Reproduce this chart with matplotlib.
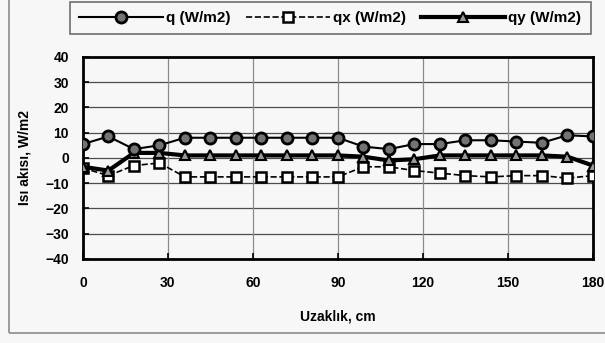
import numpy as np
import matplotlib.pyplot as plt
from matplotlib.patches import Rectangle

plt.rcParams['font.family'] = ['Liberation Sans', 'DejaVu Sans']

uzaklik = np.arange(0, 181, 9)
q = [5.5, 8.5, 3.5, 5, 8, 8, 8, 8, 8, 8, 8, 4.5, 3.5, 5.5, 5.5, 7, 7, 6.5, 6, 9, 8.5]
qx = [-4, -7, -3, -2, -7.5, -7.5, -7.5, -7.5, -7.5, -7.5, -7.5, -3.5, -3.5, -5, -6, -7, -7.5, -7, -7, -8, -7]
qy = [-3.5, -5, 2, 2, 1, 1, 1, 1, 1, 1, 1, 0.5, -1, -0.5, 1, 1, 1, 1, 1, 0.5, -3]

xticks = [0, 30, 60, 90, 120, 150, 180]
yticks = [40, 30, 20, 10, 0, -10, -20, -30, -40]

fig = plt.figure(figsize=(6.05, 3.43), dpi=100)
fig.patch.set_facecolor('#f7f7f7')
axe = fig.add_axes([0.137, 0.245, 0.843, 0.589])
axe.set_facecolor('#f7f7f7')

# outer frame of the scanned chart
fig.patches.append(Rectangle((9/605, 10/343), 0.999, 0.999, transform=fig.transFigure,
                             fill=False, edgecolor='0.55', lw=1.2))

for y in yticks[1:-1]:
    axe.axhline(y, color='0.3', lw=0.9, zorder=0)
for x in xticks[1:-1]:
    axe.axvline(x, color='0.55', lw=0.9, zorder=0)

axe.plot(uzaklik, q, '-o', c='black', lw=1.5, ms=8, mfc='0.45', mec='black', mew=2,
         label='q (W/m2)', zorder=4)
axe.plot(uzaklik, qx, '--s', c='black', lw=1.2, ms=7.5, mfc='white', mec='black', mew=1.8,
         label='qx (W/m2)', zorder=3)
axe.plot(uzaklik, qy, '-^', c='black', lw=3, ms=7.5, mfc='0.6', mec='black', mew=1.5,
         label='qy (W/m2)', zorder=3)

axe.set_xlim(0, 180)
axe.set_ylim(-40, 40)
axe.set_xticks(xticks)
axe.set_yticks(yticks)
axe.tick_params(direction='in', length=4, width=1.2, labelsize=10)
for lab in axe.get_xticklabels() + axe.get_yticklabels():
    lab.set_fontweight('bold')
axe.tick_params(axis='x', pad=12)
axe.tick_params(axis='y', pad=10)
for s in axe.spines.values():
    s.set_linewidth(2)
    s.set_color('black')

axe.set_xlabel('Uzaklık, cm', fontsize=10, fontweight='bold', labelpad=14)
axe.set_ylabel('Isı akısı, W/m2', fontsize=10, fontweight='bold', labelpad=10)

leg = fig.legend(loc='upper left', bbox_to_anchor=(70/605, 1 - 2/343), ncol=3,
                 handlelength=5.5, columnspacing=1.0, handletextpad=0.2,
                 fontsize=11, frameon=True, fancybox=False, borderaxespad=0,
                 borderpad=0.6)
leg.get_frame().set_edgecolor('0.3')
leg.get_frame().set_linewidth(1.2)
leg.get_frame().set_facecolor('#f7f7f7')
for t in leg.get_texts():
    t.set_fontweight('bold')

fig.savefig('out.png', dpi=100, facecolor=fig.get_facecolor())
